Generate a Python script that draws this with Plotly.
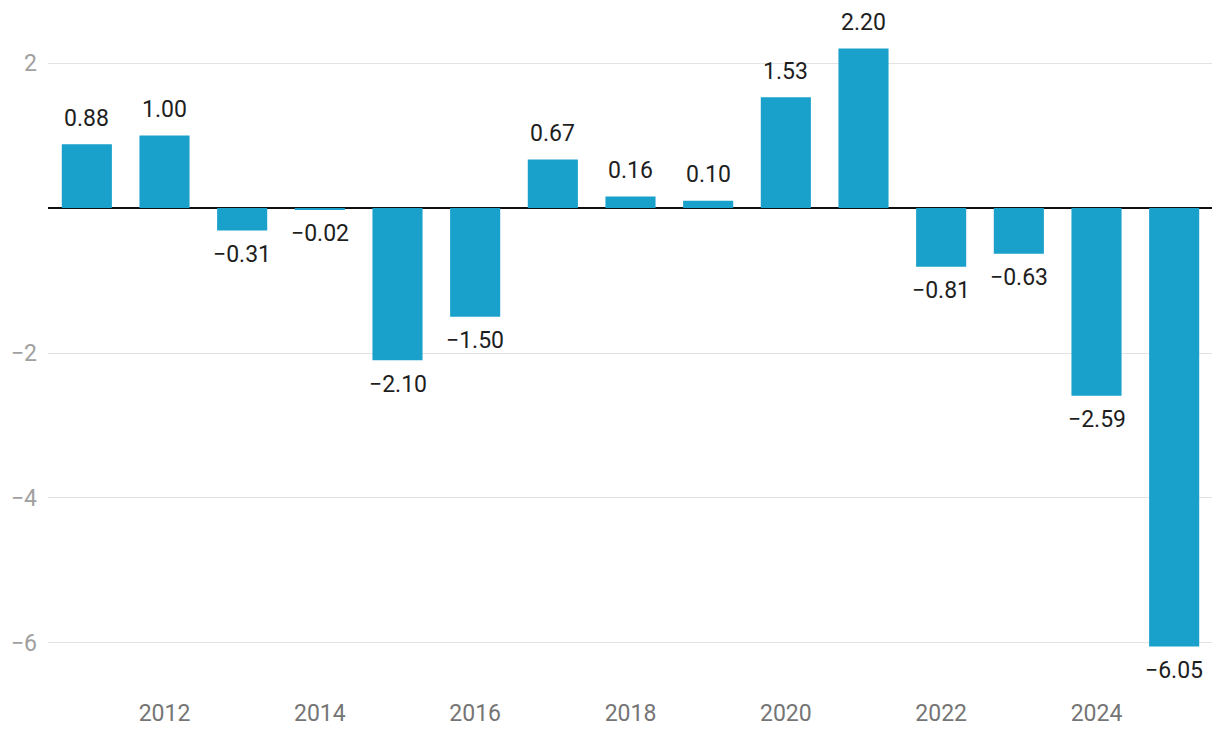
import plotly.graph_objects as go

years = list(range(2011, 2026))
values = [0.88, 1.00, -0.31, -0.02, -2.10, -1.50, 0.67, 0.16, 0.10, 1.53, 2.20, -0.81, -0.63, -2.59, -6.05]
labels = [f"{v:.2f}".replace("-", "\u2212") for v in values]
y_ticks = [-6, -4, -2, 2]

fig = go.Figure(go.Bar(
    x=years, y=values,
    marker_color="#19a1cc", marker_line_width=0,
    hoverinfo="skip",
))
for yr, v, lab in zip(years, values, labels):
    fig.add_annotation(
        x=yr, y=v, text=lab, showarrow=False,
        yanchor="middle", yshift=26 if v >= 0 else -24,
        font=dict(family="Roboto", size=23, color="#1e1e1e"),
    )
fig.update_layout(
    width=1220, height=742,
    margin=dict(l=40, r=15, t=8, b=60, autoexpand=False),
    paper_bgcolor="white", plot_bgcolor="white",
    bargap=0.355, showlegend=False,
    font=dict(family="Roboto"),
    xaxis=dict(range=[2010.5, 2025.5], tickmode="linear", tick0=2012, dtick=2,
               showgrid=False, zeroline=False, showline=False, ticks="",
               automargin=False, ticklabelstandoff=7,
               tickfont=dict(size=23, color="#757575")),
    yaxis=dict(range=[-6.65, 2.65], tickmode="array", tickvals=y_ticks,
               ticktext=[str(t).replace("-", "\u2212") for t in y_ticks],
               showgrid=True, gridcolor="#e3e3e3", gridwidth=1,
               zeroline=True, zerolinecolor="#111111", zerolinewidth=2,
               showline=False, ticks="", ticklabelstandoff=10, automargin=False,
               tickfont=dict(size=23, color="#a0a0a0")),
)
fig.write_html("out.html")
